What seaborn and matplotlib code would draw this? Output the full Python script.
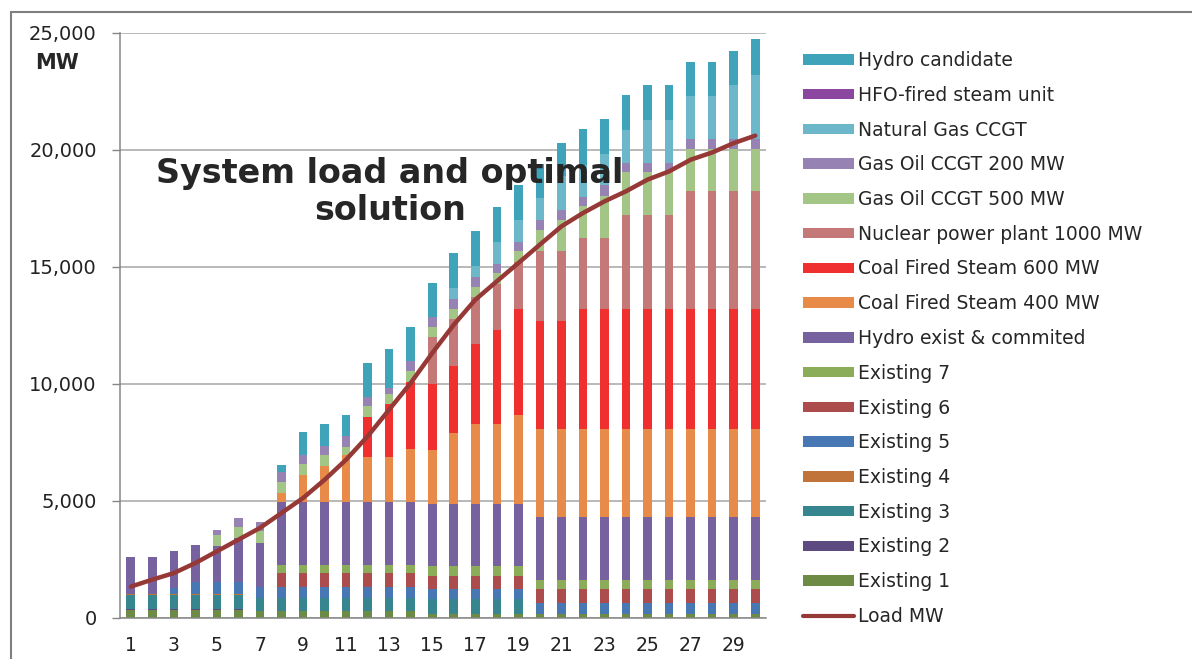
import numpy as np
import pandas as pd
import matplotlib
matplotlib.use("Agg")
import matplotlib.pyplot as plt
import seaborn as sns
from matplotlib.patches import Patch
from matplotlib.lines import Line2D
from matplotlib.ticker import FuncFormatter, FixedLocator

# ------------------------------------------------------------
# DATA (MW per year)
# ------------------------------------------------------------
years = list(range(1, 31))

existing_1 = [340, 340, 340, 340, 340, 340, 285, 285, 285, 285, 285, 285, 285, 285, 170,
              170, 170, 170, 170, 170, 170, 170, 170, 170, 170, 170, 170, 170, 170, 170]
existing_2 = [40, 40, 40, 40, 40, 40, 0, 0, 0, 0, 0, 0, 0, 0, 0,
              0, 0, 0, 0, 0, 0, 0, 0, 0, 0, 0, 0, 0, 0, 0]
existing_3 = [585, 585, 585, 585, 585, 585, 555, 555, 555, 555, 555, 555, 555, 555, 600,
              600, 600, 600, 600, 0, 0, 0, 0, 0, 0, 0, 0, 0, 0, 0]
existing_4 = [25, 25, 25, 25, 25, 25, 0, 0, 0, 0, 0, 0, 0, 0, 0,
              0, 0, 0, 0, 0, 0, 0, 0, 0, 0, 0, 0, 0, 0, 0]
existing_5 = [0, 0, 270, 515, 515, 515, 470, 470, 470, 470, 470, 470, 470, 470, 470,
              470, 470, 470, 470, 470, 470, 470, 470, 470, 470, 470, 470, 470, 470, 470]
existing_6 = [0, 0, 0, 0, 0, 0, 0, 600, 600, 600, 600, 600, 600, 600, 540,
              540, 540, 540, 540, 600, 600, 600, 600, 600, 600, 600, 600, 600, 600, 600]
existing_7 = [0, 0, 0, 0, 0, 0, 0, 355, 355, 355, 355, 355, 355, 355, 415,
              415, 415, 415, 415, 385, 385, 385, 385, 385, 385, 385, 385, 385, 385, 385]
hydro_exist = [1595, 1595, 1580, 1580, 1570, 1910, 1895, 2680, 2680, 2680, 2680, 2680, 2680, 2680, 2680,
               2680, 2680, 2680, 2680, 2680, 2680, 2680, 2680, 2680, 2680, 2680, 2680, 2680, 2680, 2680]
coal_400 = [0, 0, 0, 0, 0, 0, 0, 385, 1140, 1540, 1995, 1925, 1925, 2280, 2280,
            3035, 3420, 3420, 3775, 3775, 3775, 3775, 3775, 3775, 3775, 3775, 3775, 3775, 3775, 3775]
coal_600 = [0, 0, 0, 0, 0, 0, 0, 0, 0, 0, 0, 1710, 2280, 2850, 2820,
            2850, 3420, 3990, 4560, 4590, 4590, 5130, 5130, 5130, 5130, 5130, 5130, 5130, 5130, 5130]
nuclear = [0, 0, 0, 0, 0, 0, 0, 0, 0, 0, 0, 0, 0, 0, 2020,
           2000, 2000, 2000, 2000, 3005, 3005, 3020, 3020, 3990, 3990, 3990, 5015, 5015, 5015, 5015]
go_500 = [0, 0, 0, 0, 470, 455, 485, 470, 470, 455, 355, 455, 430, 455, 430,
          430, 430, 430, 470, 910, 1340, 1370, 1795, 1850, 1850, 1850, 1825, 1825, 1825, 1825]
go_200 = [0, 0, 0, 0, 215, 400, 415, 425, 415, 400, 455, 400, 215, 425, 425,
          425, 425, 400, 385, 400, 425, 385, 455, 400, 400, 400, 425, 425, 425, 425]
ng_ccgt = [0, 0, 0, 0, 0, 0, 0, 0, 0, 0, 0, 0, 0, 0, 0,
           485, 470, 955, 955, 955, 1425, 1385, 1355, 1385, 1850, 1850, 1810, 1810, 2280, 2710]
hfo_steam = [0, 0, 0, 0, 0, 0, 0, 0, 0, 0, 0, 0, 0, 0, 0,
             0, 0, 0, 0, 0, 0, 0, 0, 0, 0, 0, 0, 0, 0, 0]
hydro_cand = [0, 0, 0, 0, 0, 0, 0, 285, 970, 955, 925, 1465, 1710, 1465, 1465,
              1495, 1495, 1495, 1495, 1470, 1440, 1510, 1495, 1495, 1495, 1495, 1495, 1495, 1495, 1540]

load_mw = [1320, 1620, 1900, 2330, 2830, 3330, 3830, 4470, 5110, 5890, 6750, 7750, 8890, 10030, 11310,
           12520, 13590, 14380, 15160, 15950, 16730, 17300, 17800, 18230, 18730, 19080, 19580, 19890, 20290, 20610]

# legend order = top of stack first
sources = [
    ("Hydro candidate", hydro_cand, "#3FA3BA"),
    ("HFO-fired steam unit", hfo_steam, "#8B47A0"),
    ("Natural Gas CCGT", ng_ccgt, "#6DB7CA"),
    ("Gas Oil CCGT 200 MW", go_200, "#9683B4"),
    ("Gas Oil CCGT 500 MW", go_500, "#A3C585"),
    ("Nuclear power plant 1000 MW", nuclear, "#C47878"),
    ("Coal Fired Steam 600 MW", coal_600, "#EF302E"),
    ("Coal Fired Steam 400 MW", coal_400, "#E98B48"),
    ("Hydro exist & commited", hydro_exist, "#76629E"),
    ("Existing 7", existing_7, "#8BAD5A"),
    ("Existing 6", existing_6, "#AD4C4C"),
    ("Existing 5", existing_5, "#4878B4"),
    ("Existing 4", existing_4, "#C1743A"),
    ("Existing 3", existing_3, "#36858F"),
    ("Existing 2", existing_2, "#5C4A80"),
    ("Existing 1", existing_1, "#6E8B45"),
]

# long table for seaborn
rows = []
for name, vals, _ in sources:
    for yr, v in zip(years, vals):
        rows.append({"year": yr, "source": name, "MW": v})
df = pd.DataFrame(rows)

hue_order = [s[0] for s in sources]
palette = {s[0]: s[2] for s in sources}
load_color = "#953836"

# ------------------------------------------------------------
# PLOT
# ------------------------------------------------------------
sns.set_style("white")
plt.rcParams["font.family"] = ["DejaVu Sans"]

fig = plt.figure(figsize=(11.92, 6.59), dpi=100)
ax = fig.add_axes([120 / 1192, 1 - 617.5 / 659, 646 / 1192, 584.5 / 659])

# stacked bars (seaborn stacks the last hue level at the bottom)
sns.histplot(
    data=df, x="year", weights="MW", hue="source", hue_order=hue_order,
    palette=palette, multiple="stack", discrete=True, shrink=0.4,
    alpha=1, linewidth=0, legend=False, ax=ax,
)

sns.lineplot(x=years, y=load_mw, color=load_color, linewidth=3.2, ax=ax,
             solid_capstyle="round", zorder=5)

ax.set_xlim(0.5, 30.5)
ax.set_ylim(0, 25000)
ax.set_xlabel("")
ax.set_ylabel("")

# gridlines
ax.set_yticks(range(0, 25001, 5000))
ax.yaxis.set_major_formatter(FuncFormatter(lambda v, p: f"{int(v):,}"))
ax.grid(axis="y", color="#A6A6A6", linewidth=1.1)
ax.set_axisbelow(True)

# x ticks: labels on odd years, tick marks between categories
ax.xaxis.set_major_locator(FixedLocator(list(range(1, 31, 2))))
ax.xaxis.set_minor_locator(FixedLocator([i + 0.5 for i in range(0, 31)]))
ax.tick_params(axis="x", which="major", length=0, pad=13, labelsize=13.5, colors="#222222")
ax.tick_params(axis="x", which="minor", length=5.8, width=1, color="#868686")
ax.tick_params(axis="y", which="major", length=5.8, width=1, color="#868686",
               pad=11, labelsize=14, labelcolor="#222222", left=True)

for side in ["top", "right"]:
    ax.spines[side].set_visible(False)
for side in ["left", "bottom"]:
    ax.spines[side].set_color("#868686")
    ax.spines[side].set_linewidth(1.1)

# labels
fig.text(35 / 1192, 1 - 63 / 659, "MW", fontsize=15, fontweight="bold", va="center", ha="left")
fig.text(390 / 1192, 1 - 192 / 659, "System load and optimal\nsolution", fontsize=24,
         fontweight="bold", ha="center", va="center", linespacing=1.18)

# outer frame
fig.add_artist(Line2D([11 / 1192, 1], [1 - 12 / 659, 1 - 12 / 659], color="#7F7F7F",
                      linewidth=1.5, transform=fig.transFigure))
fig.add_artist(Line2D([11 / 1192, 11 / 1192], [0, 1 - 12 / 659], color="#7F7F7F",
                      linewidth=1.5, transform=fig.transFigure))

# legend
handles = [Patch(facecolor=c, edgecolor="none", label=n) for n, _, c in sources]
handles.append(Line2D([0], [0], color=load_color, linewidth=3, label="Load MW"))
fig.legend(handles=handles, loc="upper left", bbox_to_anchor=(803 / 1192, 1 - 51 / 659),
           frameon=False, fontsize=13.5, handlelength=2.7, handleheight=0.5,
           handletextpad=0.25, labelspacing=0.84, borderpad=0, borderaxespad=0)

plt.savefig("out.png", dpi=100)
